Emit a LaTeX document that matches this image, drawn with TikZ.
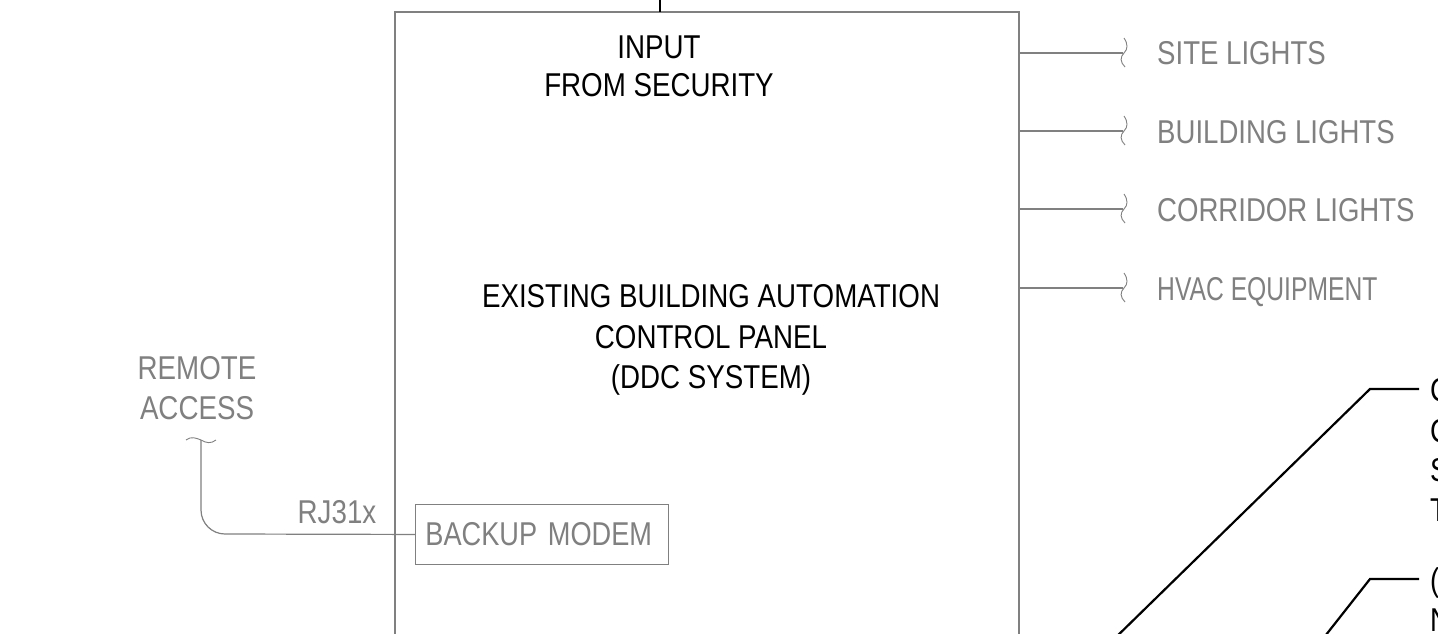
\documentclass[tikz,border=0pt]{standalone}
\usepackage{fontspec}
\usepackage{graphicx}
\setmainfont{Liberation Sans}[FakeStretch=0.84]
\definecolor{gl}{HTML}{808080}
\definecolor{gt}{HTML}{808080}
\tikzset{
 lbl/.style={font=\fontsize{33}{40}\selectfont,inner sep=0pt,align=center,text=black},
 glbl/.style={lbl,text=gt},
 gline/.style={draw=gl,line width=1.2pt},
 kline/.style={draw=black,line width=2.2pt},
 brk/.style={draw=gl,line width=0.9pt}
}
\begin{document}
\begin{tikzpicture}[x=1pt,y=-1pt]
\useasboundingbox (0,0) rectangle (1438,634);
\clip (0,0) rectangle (1438,634);
\fill[white] (0,0) rectangle (1438,634);
% panel, cut by the page bottom
\coordinate (pTL) at (395,12);
\coordinate (pTR) at (1019,12);
\coordinate (pBL) at (395,640);
\coordinate (pBR) at (1019,640);
\draw[gline] (pBL) -- (pTL) -- (pTR) -- (pBR);
\coordinate (secTop) at (660,-2);
\coordinate (secBot) at (660,12);
\draw[kline] (secTop) -- (secBot);
\node[lbl,font=\fontsize{33}{38}\selectfont] (input) at (659,66) {INPUT\\FROM SECURITY};
\node[lbl,font=\fontsize{33}{40.5}\selectfont] (panel) at (711,340) {EXISTING BUILDING AUTOMATION\\CONTROL PANEL\\(DDC SYSTEM)};
% outputs
\foreach \n/\y/\t in {a/53/SITE LIGHTS,b/131/BUILDING LIGHTS,c/209/CORRIDOR LIGHTS}{
  \node[glbl,anchor=base west] (out\n) at (1157,\y+12) {\scalebox{0.995}[1]{\t}};
  \coordinate (src\n) at (1019,\y);
  \coordinate (end\n) at (1123,\y);
  \draw[gline] (src\n) -- (end\n);
  \draw[brk] (1124,\y-15) .. controls (1128,\y-9) and (1128,\y-4) .. (1124,\y)
     .. controls (1120,\y+4) and (1120,\y+9) .. (1125,\y+14);
}
\foreach \n/\y/\t in {d/288/HVAC EQUIPMENT}{
  \node[glbl,anchor=base west] (out\n) at (1157,\y+12) {\scalebox{0.89}[1]{\t}};
  \coordinate (src\n) at (1019,\y);
  \coordinate (end\n) at (1123,\y);
  \draw[gline] (src\n) -- (end\n);
  \draw[brk] (1124,\y-15) .. controls (1128,\y-9) and (1128,\y-4) .. (1124,\y)
     .. controls (1120,\y+4) and (1120,\y+9) .. (1125,\y+14);
}
% modem
\node[glbl,draw=gl,line width=0.9pt,minimum height=60pt,text width=233pt,align=left,anchor=north west,inner xsep=10pt,inner ysep=0pt] (modem) at (415,504) {\scalebox{0.98}[1]{BACKUP MODEM}};
\node[glbl] (remote) at (197,388) {REMOTE\\ACCESS};
\node[glbl] (rj) at (337,512) {RJ31x};
\coordinate (rtop) at (201,440);
\draw[gline] (modem.west) -- (225,534) arc[start angle=90,end angle=180,radius=24] -- (rtop);
\draw[brk] (186,440) .. controls (191,436) and (196,438) .. (201,440) .. controls (206,443) and (211,444) .. (216,440);
% leaders
\node[lbl,anchor=base west] (t1) at (1430,401) {C};
\node[lbl,anchor=base west] (t2) at (1430,442) {C};
\node[lbl,anchor=base west] (t3) at (1430,481) {S};
\node[lbl,anchor=base west] (t4) at (1430,521) {T};
\node[lbl,anchor=base west] (t5) at (1430,591) {(};
\node[lbl,anchor=base west] (t6) at (1430,631) {N};
\coordinate (k1) at (1370,389);
\coordinate (k2) at (1370,579);
\coordinate (e1) at (1419,389);
\coordinate (e2) at (1419,579);
\coordinate (d1) at (1110,643);
\coordinate (d2) at (1320,642.5);
\draw[kline] (e1) -- (k1) -- (d1);
\draw[kline] (e2) -- (k2) -- (d2);
\end{tikzpicture}
\end{document}
